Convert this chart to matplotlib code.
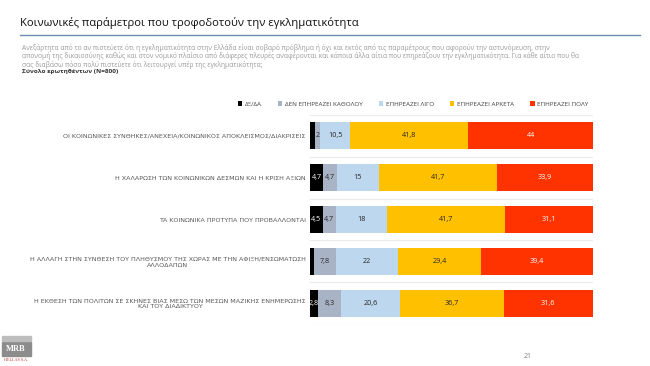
import matplotlib.pyplot as plt
from matplotlib.patches import Rectangle

plt.rcParams['font.family'] = ['Open Sans', 'DejaVu Sans']

categories = [
    "ΟΙ ΚΟΙΝΩΝΙΚΕΣ ΣΥΝΘΗΚΕΣ/ΑΝΕΧΕΙΑ/ΚΟΙΝΩΝΙΚΟΣ ΑΠΟΚΛΕΙΣΜΟΣ/ΔΙΑΚΡΙΣΕΙΣ",
    "Η ΧΑΛΑΡΩΣΗ ΤΩΝ ΚΟΙΝΩΝΙΚΩΝ ΔΕΣΜΩΝ ΚΑΙ Η ΚΡΙΣΗ ΑΞΙΩΝ",
    "ΤΑ ΚΟΙΝΩΝΙΚΑ ΠΡΟΤΥΠΑ ΠΟΥ ΠΡΟΒΑΛΛΟΝΤΑΙ",
    "Η ΑΛΛΑΓΗ ΣΤΗΝ ΣΥΝΘΕΣΗ ΤΟΥ ΠΛΗΘΥΣΜΟΥ ΤΗΣ ΧΩΡΑΣ ΜΕ ΤΗΝ ΑΦΙΞΗ/ΕΝΣΩΜΑΤΩΣΗ\nΑΛΛΟΔΑΠΩΝ",
    "Η ΕΚΘΕΣΗ ΤΩΝ ΠΟΛΙΤΩΝ ΣΕ ΣΚΗΝΕΣ ΒΙΑΣ ΜΕΣΩ ΤΩΝ ΜΕΣΩΝ ΜΑΖΙΚΗΣ ΕΝΗΜΕΡΩΣΗΣ\nΚΑΙ ΤΟΥ ΔΙΑΔΙΚΤΥΟΥ",
]
series_names = ["ΔΞ/ΔΑ", "ΔΕΝ ΕΠΗΡΕΑΖΕΙ ΚΑΘΟΛΟΥ", "ΕΠΗΡΕΑΖΕΙ ΛΙΓΟ",
                "ΕΠΗΡΕΑΖΕΙ ΑΡΚΕΤΑ", "ΕΠΗΡΕΑΖΕΙ ΠΟΛΥ"]
dk_da = [1.7, 4.7, 4.5, 1.4, 2.8]
den_katholou = [2, 4.7, 4.7, 7.8, 8.3]
ligo = [10.5, 15, 18, 22, 20.6]
arketa = [41.8, 41.7, 41.7, 29.4, 36.7]
poly = [44, 33.9, 31.1, 39.4, 31.6]
# which values carry a label (the thinnest black slices have none)
show_label = [
    [False, True, True, False, True],
    [True, True, True, True, True],
    [True, True, True, True, True],
    [True, True, True, True, True],
    [True, True, True, True, True],
]

colors = ["#000000", "#A9B3C6", "#BDD7EE", "#FFC000", "#FF3300"]
text_colors = ["#FFFFFF", "#262626", "#262626", "#262626", "#FFFFFF"]

fig = plt.figure(figsize=(6.5, 3.66), dpi=100)
fig.patch.set_facecolor("white")

# header
fig.text(20 / 650, 1 - 23 / 366, "Κοινωνικές παράμετροι που τροφοδοτούν την εγκληματικότητα",
         fontsize=8.1, color="#111111", va="center", ha="left")
fig.add_artist(plt.Line2D([20 / 650, 640 / 650], [1 - 35 / 366] * 2,
                          color="#6D8DB0", lw=1.0))
intro = ("Ανεξάρτητα από το αν πιστεύετε ότι η εγκληματικότητα στην Ελλάδα είναι σοβαρό πρόβλημα ή όχι "
         "και εκτός από τις παραμέτρους που αφορούν την αστυνόμευση, στην\n"
         "απονομή της δικαιοσύνης καθώς και στον νομικό πλαίσιο από διάφερες πλευρές αναφέρονται "
         "και κάποια άλλα αίτια που επηρεάζουν την εγκληματικότητα. Για κάθε αίτιο που θα\n"
         "σας διαβάσω πόσο πολύ πιστεύετε ότι λειτουργεί υπέρ της εγκληματικότητα;")
fig.text(22 / 650, 1 - 44 / 366, intro, fontsize=4.8, color="#9A9A9A",
         va="top", ha="left", linespacing=1.03)
fig.text(22 / 650, 1 - 71.5 / 366, "Σύνολο ερωτηθέντων (N=800)", fontsize=4.6,
         color="#333333", fontweight="bold", va="center", ha="left")

ax = fig.add_axes([310 / 650, 1 - 324 / 366, 283 / 650, 209 / 366])
series = [dk_da, den_katholou, ligo, arketa, poly]
ypos = list(range(len(categories)))
left = [0.0] * len(categories)
for s, (vals, name) in enumerate(zip(series, series_names)):
    bars = ax.barh(ypos, vals, left=left, height=0.65, color=colors[s],
                   label=name, zorder=3)
    for i, b in enumerate(bars):
        if show_label[s][i]:
            txt = f"{vals[i]:g}".replace(".", ",")
            ax.text(b.get_x() + b.get_width() / 2, b.get_y() + b.get_height() / 2,
                    txt, ha="center", va="center", fontsize=5.2,
                    color=text_colors[s], zorder=4)
    left = [l + v for l, v in zip(left, vals)]

ax.set_xlim(0, 100)
ax.set_ylim(len(categories) - 0.5, -0.5)
for k in range(len(categories) + 1):
    ax.axhline(k - 0.5, color="#EBEBEB", lw=0.8, zorder=1)
ax.set_yticks(ypos)
ax.set_yticklabels(categories, fontsize=4.6, color="#595959",
                   family=["DejaVu Sans"], multialignment="center")
ax.tick_params(axis="y", length=0, pad=3)
ax.set_xticks([])
for sp in ax.spines.values():
    sp.set_visible(False)

fig.legend(loc="center", bbox_to_anchor=(413 / 650, 1 - 104 / 366), ncol=5,
           frameon=False, fontsize=4.5, handlelength=0.7, handleheight=0.7,
           handletextpad=0.4, columnspacing=2.6, labelcolor="#404040")

# logo and page number
fig.add_artist(Rectangle((2 / 650, 1 - 356 / 366), 29 / 650, 14 / 366,
                         transform=fig.transFigure, color="#8C8C8C"))
fig.add_artist(Rectangle((2 / 650, 1 - 341 / 366), 29 / 650, 5 / 366,
                         transform=fig.transFigure, color="#BDBDBD"))
fig.text(16 / 650, 1 - 349 / 366, "MRB", fontsize=6, color="white",
         fontweight="bold", family=["Liberation Serif"], ha="center", va="center")
fig.text(16 / 650, 1 - 360 / 366, "HELLAS S.A.", fontsize=3, color="#C0392B",
         family=["Liberation Serif"], ha="center", va="center")
fig.text(528 / 650, 1 - 356 / 366, "21", fontsize=5, color="#808080",
         ha="center", va="center")

fig.savefig("out.png", dpi=100)
